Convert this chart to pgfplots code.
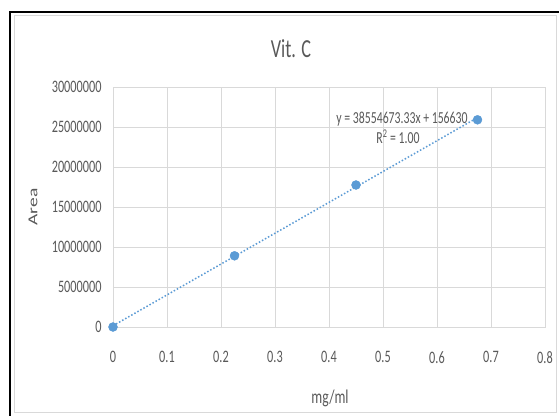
\documentclass[border=0pt]{standalone}
\usepackage{fontspec}
\setmainfont{Carlito}[FakeStretch=0.7]
\newfontfamily\calplain{Carlito}
\usepackage{graphicx}
\usepackage{pgfplots}
\pgfplotsset{compat=1.18}
\definecolor{txt}{RGB}{89,89,89}
\definecolor{grd}{RGB}{217,217,217}
\definecolor{mk}{RGB}{91,155,213}
\begin{document}
\begin{tikzpicture}[x=1pt,y=1pt]
\useasboundingbox (0,0) rectangle (559,415);
\fill[white] (0,0) rectangle (559,415);
\draw[grd, line width=1pt] (14,3) rectangle (556,399);
\draw[black, line width=1.5pt] (10,-5) -- (10,403) -- (570,403);
\begin{axis}[at={(113pt,88pt)}, anchor=origin, scale only axis,
  width=432pt, height=240pt,
  xmin=0, xmax=0.8, ymin=0, ymax=30000000,
  xtick={0,0.1,0.2,0.3,0.4,0.5,0.6,0.7,0.8},
  ytick={0,5000000,10000000,15000000,20000000,25000000,30000000},
  grid=major, grid style={grd, line width=0.8pt},
  axis line style={grd, line width=0.8pt},
  major tick length=0pt,
  scaled ticks=false,
  tick label style={font=\fontsize{17.5}{17.5}\selectfont, color=txt},
  /pgf/number format/assume math mode=true,
  yticklabel style={/pgf/number format/fixed, /pgf/number format/1000 sep={}, xshift=-8pt},
  xticklabel style={/pgf/number format/fixed, /pgf/number format/precision=1, yshift=-21pt},
  clip=false]
\addplot[mk, dotted, line width=1.5pt] coordinates {(0,156630) (0.675,26180000)};
\addplot[only marks, mark=*, mark size=4.5pt, mark options={draw=mk, fill=mk}] coordinates {
  (0,0) (0.225,8900000) (0.45,17750000) (0.675,25900000)};
\end{axis}
\node[txt, font=\fontsize{26}{26}\selectfont] at (291,366) {Vit. C};
\node[txt, font=\fontsize{16.8}{16.8}\selectfont] at (402,296) {y = 38554673.33x + 156630};
\node[txt, font=\fontsize{16.8}{16.8}\selectfont] at (398,278) {R\textsuperscript{2} = 1.00};
\node[txt, font=\fontsize{19.5}{19.5}\selectfont] at (330,17) {mg/ml};
\node[txt, inner sep=0pt] at (33,208) {\rotatebox{90}{\scalebox{1}[0.7]{\calplain\fontsize{19.5}{19.5}\selectfont Area}}};
\end{tikzpicture}
\end{document}
